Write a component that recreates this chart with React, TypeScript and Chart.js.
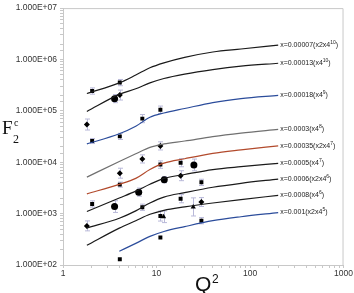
import React, { useEffect, useRef } from "react";
import { Chart, registerables } from "chart.js";

Chart.register(...registerables);

// Q² grid for the theory curves
const qFull = [1.8, 4, 6, 8.5, 12, 20, 40, 80, 200];
const qLate = [4, 6, 8.5, 12, 20, 40, 80, 200];

const curve00007 = [2.18e5, 3.5e5, 4.98e5, 6.9e5, 8.6e5, 1.1e6, 1.4e6, 1.6e6, 1.9e6];
const curve00013 = [9.75e4, 2.09e5, 2.69e5, 3.5e5, 4.27e5, 5.2e5, 6.35e5, 7.4e5, 8.45e5];
const curve00018 = [2.27e4, 3.58e4, 5.02e4, 7.5e4, 9.1e4, 1.11e5, 1.45e5, 1.73e5, 2.0e5];
const curve0003 = [5.14e3, 1.03e4, 1.46e4, 1.95e4, 2.27e4, 2.59e4, 3.16e4, 3.69e4, 4.35e4];
const curve00035 = [2.43e3, 3.72e3, 4.85e3, 7.2e3, 9.6e3, 1.17e4, 1.49e4, 1.74e4, 2.08e4];
const curve0005 = [1.1e3, 2.01e3, 2.74e3, 3.72e3, 4.85e3, 5.78e3, 7.2e3, 8.2e3, 9.5e3];
const curve0006 = [527, 813, 1.13e3, 1.61e3, 2.1e3, 2.56e3, 3.26e3, 3.89e3, 4.7e3];
const curve0008 = [242, 522, 728, 970, 1.16e3, 1.35e3, 1.61e3, 1.88e3, 2.26e3];
const curve001 = [185, 264, 360, 448, 558, 728, 869, 1.05e3];

const curveValues = [curve00007, curve00013, curve00018, curve0003, curve00035, curve0005, curve0006, curve0008, curve001];
const curveQ = [qFull, qFull, qFull, qFull, qFull, qFull, qFull, qFull, qLate];
const curveColors = ["#1a1a1a", "#1a1a1a", "#2b4c9b", "#707070", "#b24a2c", "#1a1a1a", "#1a1a1a", "#1a1a1a", "#2b4c9b"];
const labelMain = [
  "x=0.00007(x2x4",
  "x=0.00013(x4",
  "x=0.00018(x4",
  "x=0.0003(x4",
  "x=0.00035(x2x4",
  "x=0.0005(x4",
  "x=0.0006(x2x4",
  "x=0.0008(x4",
  "x=0.001(x2x4",
];
const labelSup = ["10", "10", "9", "8", "7", "7", "6", "6", "5"];

// measured points
const sqQ = [2.05, 4.05, 2.05, 4.05, 7.05, 11.0, 11.0, 4.05, 2.05, 7.05, 18.1, 30.2, 18.1, 11.0, 30.2, 11.0, 4.05];
const sqF = [2.43e5, 3.55e5, 2.59e4, 3.19e4, 7.06e4, 1.05e5, 9.0e3, 3.67e3, 1.54e3, 1.33e3, 9.8e3, 4.06e3, 1.95e3, 896, 728, 344, 129];
const sqErr = [0.15, 0.15, 0.12, 0.15, 0.2, 0.18, 0.18, 0.12, 0.15, 0.15, 0.2, 0.15, 0.2, 0.25, 0.15, 0, 0];

const dmQ = [4.05, 1.8, 11.0, 7.05, 4.05, 1.8, 18.1, 30.2];
const dmF = [2.03e5, 5.42e4, 2.08e4, 1.16e4, 6.12e3, 577, 5.47e3, 1.68e3];
const dmErr = [0.25, 0.28, 0.2, 0.2, 0.25, 0.25, 0.25, 0.22];

const ciQ = [3.56, 3.56, 6.45, 12.1, 25.1];
const ciF = [1.73e5, 1.37e3, 2.62e3, 4.58e3, 8.87e3];
const ciErr = [0.2, 0.3, 0.2, 0.15, 0.3];

const trQ = [11.9, 24.7];
const trF = [869, 1.35e3];
const trErr = [0.3, 0.5];

const FONT = "'Liberation Sans', Arial, sans-serif";
const SERIF = "'Liberation Serif', 'Times New Roman', serif";

const fmtExp = (v: number) => {
  const e = Math.round(Math.log10(v));
  const m = v / Math.pow(10, e);
  return m.toFixed(3) + "E" + (e >= 0 ? "+" : "-") + String(Math.abs(e)).padStart(2, "0");
};
const isPow10 = (v: number) => {
  const l = Math.log10(v);
  return Math.abs(l - Math.round(l)) < 1e-9;
};

const pts = (xs: number[], ys: number[]) => xs.map((x, i) => ({ x, y: ys[i] }));

const errorBars = {
  id: "errorBars",
  beforeDatasetsDraw(chart: any) {
    const { ctx, scales } = chart;
    ctx.save();
    ctx.strokeStyle = "#b9b9d9";
    ctx.lineWidth = 1;
    chart.data.datasets.forEach((ds: any, di: number) => {
      if (!ds.errs) return;
      const meta = chart.getDatasetMeta(di);
      meta.data.forEach((el: any, i: number) => {
        const e = ds.errs[i];
        if (!e) return;
        const y = ds.data[i].y;
        const yHi = scales.y.getPixelForValue(y * (1 + e));
        const yLo = scales.y.getPixelForValue(y / (1 + e));
        const x = Math.round(el.x) + 0.5;
        ctx.beginPath();
        ctx.moveTo(x, yHi);
        ctx.lineTo(x, yLo);
        ctx.moveTo(x - 2.5, yHi);
        ctx.lineTo(x + 2.5, yHi);
        ctx.moveTo(x - 2.5, yLo);
        ctx.lineTo(x + 2.5, yLo);
        ctx.stroke();
      });
    });
    ctx.restore();
  },
};

const decorations = {
  id: "decorations",
  afterDraw(chart: any) {
    const { ctx, chartArea, scales } = chart;
    ctx.save();
    // frame
    ctx.strokeStyle = "#c8c8c8";
    ctx.lineWidth = 1;
    ctx.beginPath();
    ctx.moveTo(chartArea.left, chartArea.top + 0.5);
    ctx.lineTo(chartArea.right - 0.5, chartArea.top + 0.5);
    ctx.lineTo(chartArea.right - 0.5, chartArea.bottom);
    ctx.stroke();

    // curve labels
    ctx.fillStyle = "#222";
    ctx.textBaseline = "middle";
    curveValues.forEach((vals, i) => {
      const qs = curveQ[i];
      const x = scales.x.getPixelForValue(qs[qs.length - 1]) + 2;
      const y = scales.y.getPixelForValue(vals[vals.length - 1]);
      ctx.font = `7px ${FONT}`;
      ctx.fillText(labelMain[i], x, y);
      let w = ctx.measureText(labelMain[i]).width;
      ctx.font = `5px ${FONT}`;
      ctx.fillText(labelSup[i], x + w, y - 2.5);
      const ws = ctx.measureText(labelSup[i]).width;
      ctx.font = `7px ${FONT}`;
      ctx.fillText(")", x + w + ws, y);
    });

    // y title F2c
    ctx.fillStyle = "#111";
    ctx.textBaseline = "alphabetic";
    ctx.font = `19px ${SERIF}`;
    ctx.fillText("F", 2, 134);
    ctx.font = `12px ${SERIF}`;
    ctx.fillText("2", 13, 143);
    ctx.font = `10px ${SERIF}`;
    ctx.fillText("c", 14, 126);

    // x title Q2
    ctx.font = `21px ${FONT}`;
    ctx.fillText("Q", 195, 291);
    ctx.font = `12px ${FONT}`;
    ctx.fillText("2", 212, 283);
    ctx.restore();
  },
};

export default function App() {
  const ref = useRef<HTMLCanvasElement | null>(null);
  useEffect(() => {
    document.body.style.margin = "0";
    const canvas = ref.current;
    if (!canvas) return;

    const lineSets = curveValues.map((vals, i) => ({
      type: "line" as const,
      data: pts(curveQ[i], vals),
      borderColor: curveColors[i],
      borderWidth: 1.2,
      pointRadius: 0,
      fill: false,
      showLine: true,
      cubicInterpolationMode: "monotone" as const,
    }));

    const markerSet = (xs: number[], ys: number[], errs: number[], style: string, r: number) => ({
      type: "scatter" as const,
      data: pts(xs, ys),
      errs,
      pointStyle: style,
      pointRadius: r,
      backgroundColor: "#000",
      borderColor: "#000",
      borderWidth: 0,
      showLine: false,
    });

    const chart = new Chart(canvas, {
      type: "scatter",
      data: {
        datasets: [
          ...lineSets,
          markerSet(sqQ, sqF, sqErr, "rect", 2.8),
          markerSet(dmQ, dmF, dmErr, "rectRot", 3),
          markerSet(ciQ, ciF, ciErr, "circle", 3.5),
          markerSet(trQ, trF, trErr, "triangle", 3),
        ] as any,
      },
      options: {
        animation: false,
        responsive: false,
        maintainAspectRatio: false,
        layout: { padding: { top: 4, right: 9, left: 0, bottom: 0 } },
        plugins: { legend: { display: false }, tooltip: { enabled: false } },
        scales: {
          x: {
            type: "logarithmic",
            min: 1,
            max: 1000,
            afterFit: (s: any) => {
              s.height = 28;
            },
            border: { display: true, color: "#c8c8c8" },
            grid: { display: true, drawOnChartArea: false, drawTicks: true, tickLength: 3, color: "#c8c8c8" },
            ticks: {
              autoSkip: false,
              maxRotation: 0,
              padding: 1,
              color: "#333",
              font: { family: FONT, size: 8.5 },
              callback: (v: any) => (isPow10(Number(v)) ? String(Number(v)) : ""),
            },
          },
          y: {
            type: "logarithmic",
            min: 100,
            max: 1e7,
            afterFit: (s: any) => {
              s.width = 63;
            },
            border: { display: true, color: "#c8c8c8" },
            grid: { display: true, drawOnChartArea: false, drawTicks: true, tickLength: 3, color: "#c8c8c8" },
            ticks: {
              autoSkip: false,
              padding: 3,
              color: "#333",
              font: { family: FONT, size: 8.5 },
              callback: (v: any) => (isPow10(Number(v)) ? fmtExp(Number(v)) : ""),
            },
          },
        },
      } as any,
      plugins: [errorBars, decorations],
    });
    return () => chart.destroy();
  }, []);

  return (
    <div style={{ position: "absolute", left: 0, top: 0, width: 354, height: 293, background: "#fff" }}>
      <canvas ref={ref} width={354} height={293} style={{ width: 354, height: 293, display: "block" }} />
    </div>
  );
}
